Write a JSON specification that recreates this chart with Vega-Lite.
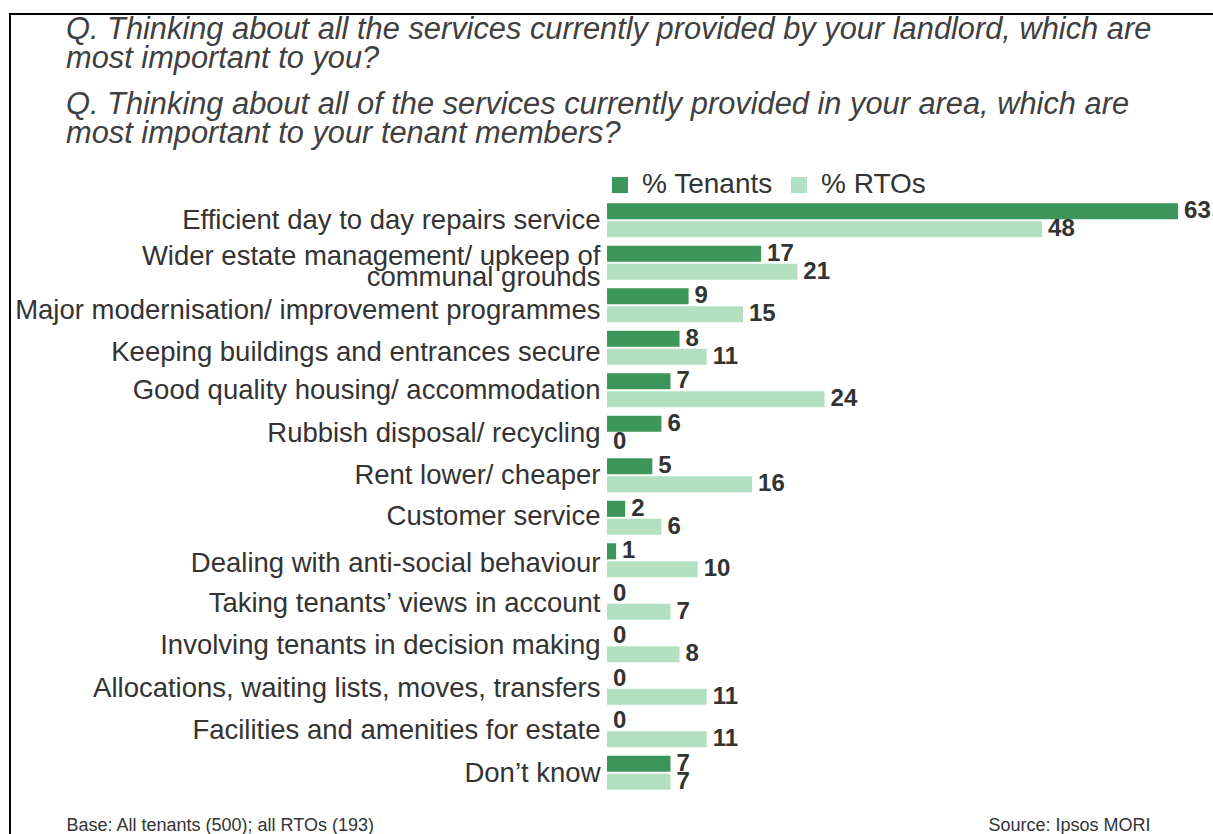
{
  "$schema": "https://vega.github.io/schema/vega-lite/v6.json",
  "width": 1210,
  "height": 830,
  "autosize": {"type": "none"},
  "padding": {"left": 10, "top": 14, "right": 0, "bottom": 0},
  "background": "white",
  "title": {
    "text": ["Q. Thinking about all the services currently provided by your landlord, which are", "most important to you?"],
    "subtitle": ["Q. Thinking about all of the services currently provided in your area, which are", "most important to your tenant members?"],
    "anchor": "start",
    "orient": "top",
    "offset": -136,
    "dx": 56,
    "font": "Liberation Sans",
    "fontSize": 30.8,
    "fontStyle": "italic",
    "fontWeight": "normal",
    "color": "#404040",
    "lineHeight": 29,
    "subtitleFont": "Liberation Sans",
    "subtitleFontSize": 30.8,
    "subtitleFontStyle": "italic",
    "subtitleColor": "#404040",
    "subtitleLineHeight": 29,
    "subtitlePadding": 15
  },
  "data": {
    "values": [
      {"item": "Efficient day to day repairs service", "series": "% Tenants", "value": 63},
      {"item": "Efficient day to day repairs service", "series": "% RTOs", "value": 48},
      {"item": "Wider estate management/ upkeep of|communal grounds", "series": "% Tenants", "value": 17},
      {"item": "Wider estate management/ upkeep of|communal grounds", "series": "% RTOs", "value": 21},
      {"item": "Major modernisation/ improvement programmes", "series": "% Tenants", "value": 9},
      {"item": "Major modernisation/ improvement programmes", "series": "% RTOs", "value": 15},
      {"item": "Keeping buildings and entrances secure", "series": "% Tenants", "value": 8},
      {"item": "Keeping buildings and entrances secure", "series": "% RTOs", "value": 11},
      {"item": "Good quality housing/ accommodation", "series": "% Tenants", "value": 7},
      {"item": "Good quality housing/ accommodation", "series": "% RTOs", "value": 24},
      {"item": "Rubbish disposal/ recycling", "series": "% Tenants", "value": 6},
      {"item": "Rubbish disposal/ recycling", "series": "% RTOs", "value": 0},
      {"item": "Rent lower/ cheaper", "series": "% Tenants", "value": 5},
      {"item": "Rent lower/ cheaper", "series": "% RTOs", "value": 16},
      {"item": "Customer service", "series": "% Tenants", "value": 2},
      {"item": "Customer service", "series": "% RTOs", "value": 6},
      {"item": "Dealing with anti-social behaviour", "series": "% Tenants", "value": 1},
      {"item": "Dealing with anti-social behaviour", "series": "% RTOs", "value": 10},
      {"item": "Taking tenants’ views in account", "series": "% Tenants", "value": 0},
      {"item": "Taking tenants’ views in account", "series": "% RTOs", "value": 7},
      {"item": "Involving tenants in decision making", "series": "% Tenants", "value": 0},
      {"item": "Involving tenants in decision making", "series": "% RTOs", "value": 8},
      {"item": "Allocations, waiting lists, moves, transfers", "series": "% Tenants", "value": 0},
      {"item": "Allocations, waiting lists, moves, transfers", "series": "% RTOs", "value": 11},
      {"item": "Facilities and amenities for estate", "series": "% Tenants", "value": 0},
      {"item": "Facilities and amenities for estate", "series": "% RTOs", "value": 11},
      {"item": "Don’t know", "series": "% Tenants", "value": 7},
      {"item": "Don’t know", "series": "% RTOs", "value": 7}
    ]
  },
  "encoding": {
    "y": {
      "field": "item",
      "type": "nominal",
      "sort": null,
      "scale": {"range": [185, 780], "paddingInner": 0.2, "paddingOuter": 0.1},
      "axis": {
        "orient": "left",
        "offset": -594,
        "domain": false,
        "ticks": false,
        "grid": false,
        "labelPadding": 4,
        "labelFont": "Liberation Sans",
        "labelFontSize": 27.5,
        "labelColor": "#333333",
        "labelLimit": 0,
        "labelLineHeight": 21,
        "labelExpr": "split(datum.label, '|')",
        "labelOffset": {
          "condition": [
            {"test": "datum.value === 'Wider estate management/ upkeep of|communal grounds'", "value": -6},
            {"test": "datum.value === 'Major modernisation/ improvement programmes'", "value": 6},
            {"test": "datum.value === 'Keeping buildings and entrances secure'", "value": 5},
            {"test": "datum.value === 'Dealing with anti-social behaviour'", "value": 4},
            {"test": "datum.value === 'Customer service'", "value": -1}
          ],
          "value": 1
        },
        "title": "Source: Ipsos MORI",
        "titleAngle": 0,
        "titleX": 384,
        "titleY": 811,
        "titleAlign": "left",
        "titleBaseline": "middle",
        "titleFont": "Liberation Sans",
        "titleFontSize": 18,
        "titleFontWeight": "normal",
        "titleColor": "#333333"
      }
    },
    "yOffset": {
      "field": "series",
      "type": "nominal",
      "sort": ["% Tenants", "% RTOs"],
      "scale": {"paddingInner": 0.1}
    },
    "x": {
      "field": "value",
      "type": "quantitative",
      "scale": {"domain": [-65.87, 67.63], "nice": false, "zero": false},
      "axis": {
        "orient": "bottom",
        "labels": false,
        "ticks": false,
        "domain": false,
        "grid": false,
        "title": "Base: All tenants (500); all RTOs (193)",
        "titleX": 56,
        "titleY": -19,
        "titleAlign": "left",
        "titleAnchor": "start",
        "titleBaseline": "middle",
        "titleFont": "Liberation Sans",
        "titleFontSize": 18,
        "titleFontWeight": "normal",
        "titleColor": "#333333"
      }
    }
  },
  "layer": [
    {
      "mark": {"type": "bar"},
      "encoding": {
        "x2": {"datum": 0},
        "color": {
          "field": "series",
          "type": "nominal",
          "scale": {"domain": ["% Tenants", "% RTOs"], "range": ["#3c9659", "#b2e0c0"]},
          "legend": {
            "title": null,
            "orient": "none",
            "legendX": 596,
            "legendY": 157,
            "direction": "horizontal",
            "symbolType": "square",
            "symbolSize": 256,
            "symbolStrokeWidth": 0,
            "labelFont": "Liberation Sans",
            "labelFontSize": 28,
            "labelColor": "#333333",
            "labelOffset": 8,
            "columnPadding": 12,
            "padding": 0
          }
        }
      }
    },
    {
      "mark": {
        "type": "text",
        "align": "left",
        "baseline": "middle",
        "dx": 6,
        "font": "Liberation Sans",
        "fontSize": 24,
        "fontWeight": "bold",
        "color": "#333333"
      },
      "encoding": {
        "text": {"field": "value", "type": "quantitative"}
      }
    }
  ],
  "config": {
    "view": {"stroke": "#000000", "strokeWidth": 2}
  }
}
